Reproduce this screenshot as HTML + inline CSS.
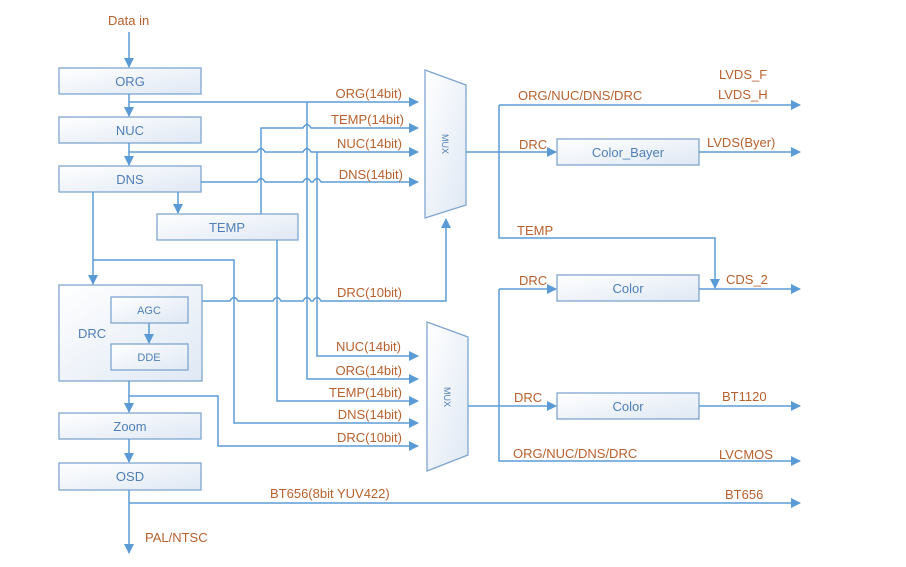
<!DOCTYPE html>
<html><head><meta charset="utf-8"><style>
html,body{margin:0;padding:0;background:#fff;}
svg{display:block;}
text{font-family:"Liberation Sans",sans-serif;}
.l{fill:#b8612e;font-size:13px;}
.b{fill:#4f7fb8;font-size:13px;}
</style></head><body>
<svg width="906" height="567" viewBox="0 0 906 567" xmlns="http://www.w3.org/2000/svg">
<defs>
<linearGradient id="g" x1="0" y1="0" x2="1" y2="1"><stop offset="0" stop-color="#ffffff"/><stop offset="1" stop-color="#dfe8f4"/></linearGradient>
<marker id="a" markerWidth="10" markerHeight="10" refX="9" refY="5" orient="auto" markerUnits="userSpaceOnUse"><path d="M0,0 L10,5 L0,10 z" fill="#5b9bd5"/></marker>
</defs>
<g fill="url(#g)" stroke="#7fa6d0" stroke-width="1.3">
<rect x="59" y="68" width="142" height="26"/>
<rect x="59" y="117" width="142" height="26"/>
<rect x="59" y="166" width="142" height="26"/>
<rect x="157" y="214" width="141" height="26"/>
<rect x="59" y="285" width="143" height="96"/>
<rect x="111" y="297" width="77" height="26"/>
<rect x="111" y="344" width="77" height="26"/>
<rect x="59" y="413" width="142" height="26"/>
<rect x="59" y="463" width="142" height="27"/>
<path d="M425 70 L466 85 L466 205 L425 218 Z"/>
<path d="M427 322 L468 337 L468 455 L427 471 Z"/>
<rect x="557" y="139" width="142" height="26"/>
<rect x="557" y="275" width="142" height="26"/>
<rect x="557" y="393" width="142" height="26"/>
</g>
<g fill="none" stroke="#5b9bd5" stroke-width="1.5">
<path d="M129 32 V67" marker-end="url(#a)"/>
<path d="M129 94 V116" marker-end="url(#a)"/>
<path d="M129 143 V165" marker-end="url(#a)"/>
<path d="M129 102 H418" marker-end="url(#a)"/>
<path d="M307 102 V379 H418" marker-end="url(#a)"/>
<path d="M261 214 V128 H303 Q307 121 311 128 H418" marker-end="url(#a)"/>
<path d="M129 152 H257 Q261 145 265 152 H303 Q307 145 311 152 H418" marker-end="url(#a)"/>
<path d="M317 152 V356 H418" marker-end="url(#a)"/>
<path d="M201 182 H257 Q261 175 265 182 H303 Q307 175 311 182 H313 Q317 175 321 182 H418" marker-end="url(#a)"/>
<path d="M178 192 V213" marker-end="url(#a)"/>
<path d="M93 192 V284" marker-end="url(#a)"/>
<path d="M93 260 H234 V423 H418" marker-end="url(#a)"/>
<path d="M277 240 V401 H418" marker-end="url(#a)"/>
<path d="M202 301 H230 Q234 294 238 301 H273 Q277 294 281 301 H303 Q307 294 311 301 H313 Q317 294 321 301 H446 V219" marker-end="url(#a)"/>
<path d="M149 323 V343" marker-end="url(#a)"/>
<path d="M129 381 V412" marker-end="url(#a)"/>
<path d="M129 396 H218 V446 H418" marker-end="url(#a)"/>
<path d="M129 439 V462" marker-end="url(#a)"/>
<path d="M129 490 V553" marker-end="url(#a)"/>
<path d="M129 503 H800" marker-end="url(#a)"/>
<path d="M466 152 H556" marker-end="url(#a)"/>
<path d="M499 105 H800" marker-end="url(#a)"/>
<path d="M499 105 V238 H715 V288" marker-end="url(#a)"/>
<path d="M699 152 H800" marker-end="url(#a)"/>
<path d="M699 289 H800" marker-end="url(#a)"/>
<path d="M499 289 H556" marker-end="url(#a)"/>
<path d="M499 289 V461 H800" marker-end="url(#a)"/>
<path d="M468 406 H556" marker-end="url(#a)"/>
<path d="M699 406 H800" marker-end="url(#a)"/>
</g>
<g class="b" text-anchor="middle">
<text x="130" y="86">ORG</text>
<text x="130" y="135">NUC</text>
<text x="130" y="184">DNS</text>
<text x="227" y="232">TEMP</text>
<text x="78" y="338" text-anchor="start" style="font-size:13px">DRC</text>
<text x="149" y="314" style="font-size:11px">AGC</text>
<text x="149" y="361" style="font-size:11px">DDE</text>
<text x="130" y="431">Zoom</text>
<text x="130" y="481">OSD</text>
<text x="628" y="157">Color_Bayer</text>
<text x="628" y="293">Color</text>
<text x="628" y="411">Color</text>
<text transform="translate(442,144) rotate(90)" style="font-size:9px">MUX</text>
<text transform="translate(444,397) rotate(90)" style="font-size:9px">MUX</text>
</g>
<g class="l">
<text x="108" y="25">Data in</text>
<g text-anchor="end">
<text x="402" y="98">ORG(14bit)</text>
<text x="404" y="124">TEMP(14bit)</text>
<text x="402" y="148">NUC(14bit)</text>
<text x="403" y="179">DNS(14bit)</text>
<text x="402" y="297">DRC(10bit)</text>
<text x="401" y="351">NUC(14bit)</text>
<text x="402" y="375">ORG(14bit)</text>
<text x="402" y="397">TEMP(14bit)</text>
<text x="402" y="419">DNS(14bit)</text>
<text x="402" y="442">DRC(10bit)</text>
</g>
<text x="270" y="498">BT656(8bit  YUV422)</text>
<text x="145" y="542">PAL/NTSC</text>
<text x="518" y="100">ORG/NUC/DNS/DRC</text>
<text x="719" y="79">LVDS_F</text>
<text x="718" y="99">LVDS_H</text>
<text x="519" y="149">DRC</text>
<text x="707" y="147">LVDS(Byer)</text>
<text x="517" y="235">TEMP</text>
<text x="519" y="285">DRC</text>
<text x="726" y="284">CDS_2</text>
<text x="514" y="402">DRC</text>
<text x="722" y="401">BT1120</text>
<text x="513" y="458">ORG/NUC/DNS/DRC</text>
<text x="719" y="459">LVCMOS</text>
<text x="725" y="499">BT656</text>
</g>
</svg>
</body></html>
